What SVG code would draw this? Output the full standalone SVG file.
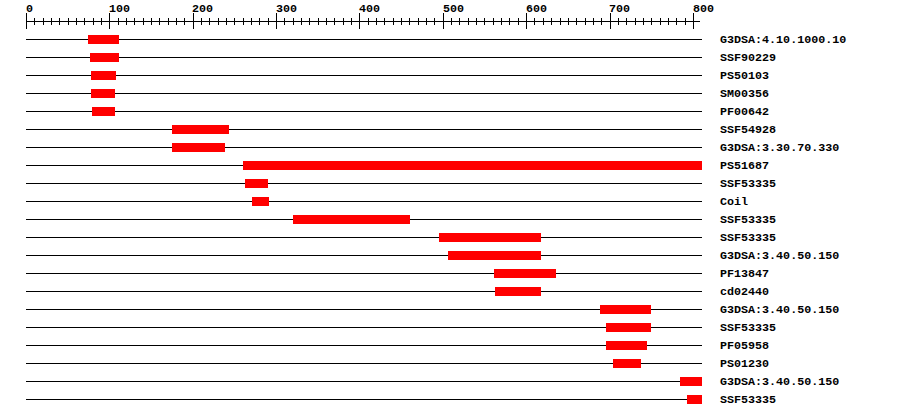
<svg xmlns="http://www.w3.org/2000/svg" width="900" height="418" viewBox="0 0 900 418">
<style>
.t{font-family:"Liberation Mono","DejaVu Sans Mono",monospace;font-weight:bold;font-size:11.7px;fill:#000}
.ln{stroke:#000;stroke-width:1;fill:none;shape-rendering:crispEdges}
.bar{fill:#ff0000;shape-rendering:crispEdges}
</style>
<rect width="900" height="418" fill="#fff"/>
<g id="ruler">
<path class="ln" d="M26 21.5H700"/>
<path class="ln" d="M26.5 13V28.5M109.5 13V28.5M193.5 13V28.5M276.5 13V28.5M359.5 13V28.5M443.5 13V28.5M526.5 13V28.5M610.5 13V28.5M693.5 13V28.5"/>
<path class="ln" d="M34.5 18V24.5M43.5 18V24.5M51.5 18V24.5M59.5 18V24.5M68.5 18V24.5M76.5 18V24.5M84.5 18V24.5M93.5 18V24.5M101.5 18V24.5M118.5 18V24.5M126.5 18V24.5M134.5 18V24.5M143.5 18V24.5M151.5 18V24.5M159.5 18V24.5M168.5 18V24.5M176.5 18V24.5M184.5 18V24.5M201.5 18V24.5M209.5 18V24.5M218.5 18V24.5M226.5 18V24.5M234.5 18V24.5M243.5 18V24.5M251.5 18V24.5M259.5 18V24.5M268.5 18V24.5M284.5 18V24.5M293.5 18V24.5M301.5 18V24.5M309.5 18V24.5M318.5 18V24.5M326.5 18V24.5M334.5 18V24.5M343.5 18V24.5M351.5 18V24.5M368.5 18V24.5M376.5 18V24.5M384.5 18V24.5M393.5 18V24.5M401.5 18V24.5M409.5 18V24.5M418.5 18V24.5M426.5 18V24.5M434.5 18V24.5M451.5 18V24.5M459.5 18V24.5M468.5 18V24.5M476.5 18V24.5M484.5 18V24.5M493.5 18V24.5M501.5 18V24.5M509.5 18V24.5M518.5 18V24.5M534.5 18V24.5M543.5 18V24.5M551.5 18V24.5M560.5 18V24.5M568.5 18V24.5M576.5 18V24.5M585.5 18V24.5M593.5 18V24.5M601.5 18V24.5M618.5 18V24.5M626.5 18V24.5M635.5 18V24.5M643.5 18V24.5M651.5 18V24.5M660.5 18V24.5M668.5 18V24.5M676.5 18V24.5M685.5 18V24.5"/>
<text class="t" x="26" y="11.5">0</text>
<text class="t" x="109" y="11.5">100</text>
<text class="t" x="192" y="11.5">200</text>
<text class="t" x="276" y="11.5">300</text>
<text class="t" x="359" y="11.5">400</text>
<text class="t" x="443" y="11.5">500</text>
<text class="t" x="526" y="11.5">600</text>
<text class="t" x="609" y="11.5">700</text>
<text class="t" x="693" y="11.5">800</text>
</g>
<g id="connectors">
<path class="ln" d="M26 39.5H702M26 57.5H702M26 75.5H702M26 93.5H702M26 111.5H702M26 129.5H702M26 147.5H702M26 165.5H702M26 183.5H702M26 201.5H702M26 219.5H702M26 237.5H702M26 255.5H702M26 273.5H702M26 291.5H702M26 309.5H702M26 327.5H702M26 345.5H702M26 363.5H702M26 381.5H702M26 399.5H702"/>
</g>
<g id="row1"><rect class="bar" x="88" y="35" width="31" height="9"/><text class="t" x="720" y="43">G3DSA:4.10.1000.10</text></g>
<g id="row2"><rect class="bar" x="90" y="53" width="29" height="9"/><text class="t" x="720" y="61">SSF90229</text></g>
<g id="row3"><rect class="bar" x="91" y="71" width="25" height="9"/><text class="t" x="720" y="79">PS50103</text></g>
<g id="row4"><rect class="bar" x="91" y="89" width="24" height="9"/><text class="t" x="720" y="97">SM00356</text></g>
<g id="row5"><rect class="bar" x="92" y="107" width="23" height="9"/><text class="t" x="720" y="115">PF00642</text></g>
<g id="row6"><rect class="bar" x="172" y="125" width="57" height="9"/><text class="t" x="720" y="133">SSF54928</text></g>
<g id="row7"><rect class="bar" x="172" y="143" width="53" height="9"/><text class="t" x="720" y="151">G3DSA:3.30.70.330</text></g>
<g id="row8"><rect class="bar" x="243" y="161" width="459" height="9"/><text class="t" x="720" y="169">PS51687</text></g>
<g id="row9"><rect class="bar" x="245" y="179" width="23" height="9"/><text class="t" x="720" y="187">SSF53335</text></g>
<g id="row10"><rect class="bar" x="252" y="197" width="17" height="9"/><text class="t" x="720" y="205">Coil</text></g>
<g id="row11"><rect class="bar" x="293" y="215" width="117" height="9"/><text class="t" x="720" y="223">SSF53335</text></g>
<g id="row12"><rect class="bar" x="439" y="233" width="102" height="9"/><text class="t" x="720" y="241">SSF53335</text></g>
<g id="row13"><rect class="bar" x="448" y="251" width="93" height="9"/><text class="t" x="720" y="259">G3DSA:3.40.50.150</text></g>
<g id="row14"><rect class="bar" x="494" y="269" width="62" height="9"/><text class="t" x="720" y="277">PF13847</text></g>
<g id="row15"><rect class="bar" x="495" y="287" width="46" height="9"/><text class="t" x="720" y="295">cd02440</text></g>
<g id="row16"><rect class="bar" x="600" y="305" width="51" height="9"/><text class="t" x="720" y="313">G3DSA:3.40.50.150</text></g>
<g id="row17"><rect class="bar" x="606" y="323" width="45" height="9"/><text class="t" x="720" y="331">SSF53335</text></g>
<g id="row18"><rect class="bar" x="606" y="341" width="41" height="9"/><text class="t" x="720" y="349">PF05958</text></g>
<g id="row19"><rect class="bar" x="613" y="359" width="28" height="9"/><text class="t" x="720" y="367">PS01230</text></g>
<g id="row20"><rect class="bar" x="680" y="377" width="22" height="9"/><text class="t" x="720" y="385">G3DSA:3.40.50.150</text></g>
<g id="row21"><rect class="bar" x="687" y="395" width="15" height="9"/><text class="t" x="720" y="403">SSF53335</text></g>
</svg>
